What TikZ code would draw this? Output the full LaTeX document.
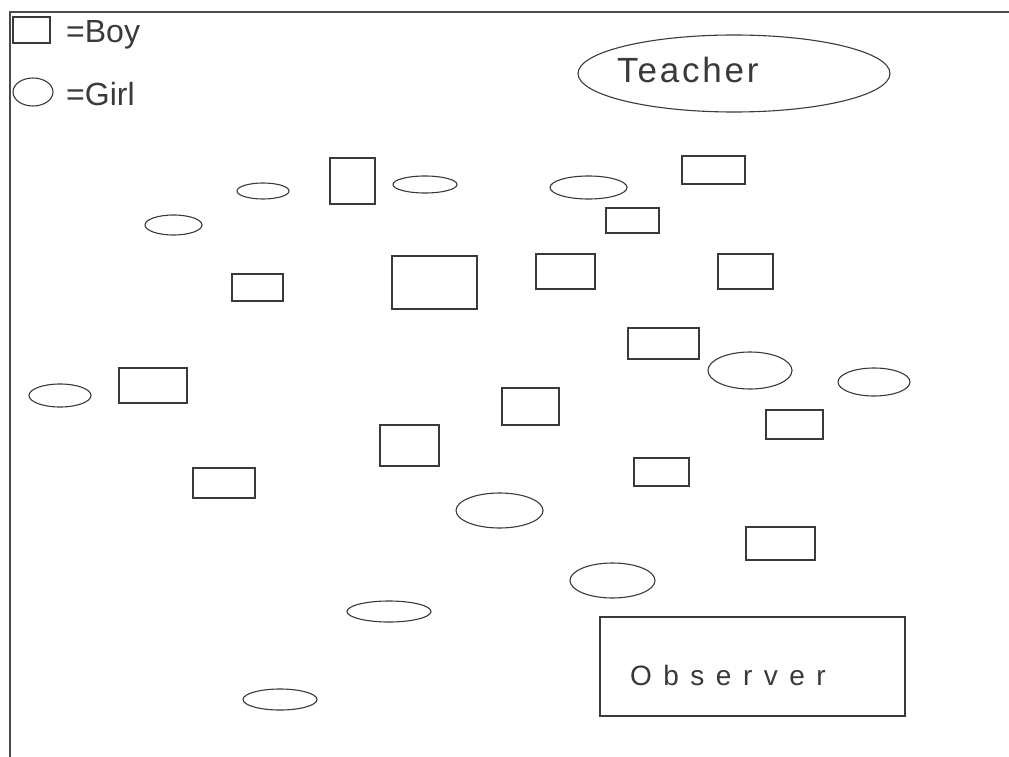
\documentclass[tikz,border=0pt]{standalone}
\usepackage{fontspec}
\setmainfont{Liberation Sans}
\usetikzlibrary{shapes.geometric}
\definecolor{inkc}{HTML}{3A3A3A}
\definecolor{framec}{HTML}{4A4A4A}
\tikzset{
  boy/.style={draw=inkc, line width=1.1pt, rectangle, inner sep=0pt, minimum width=#1},
  girl/.style={draw=inkc, line width=1.1pt, ellipse, inner sep=0pt, minimum width=#1},
  lbl/.style={inner sep=0pt, anchor=base west, text=inkc},
  frameline/.style={draw=framec, line width=2.5pt}
}
\begin{document}
\begin{tikzpicture}[x=1pt,y=-1pt]
\useasboundingbox (0,0) rectangle (1009,757);
\fill[white] (0,0) rectangle (1009,757);
% frame
\coordinate (ftr) at (1009,12);
\coordinate (ftl) at (10,12);
\coordinate (fbl) at (10,757);
\draw[frameline] (ftr) -- (ftl) -- (fbl);
% legend
\node[boy=37pt, minimum height=26pt] (lboy) at (31.5,30) {};
\node[girl=40pt, minimum height=28pt] (lgirl) at (33,92) {};
\node[lbl, font=\fontsize{32}{32}\selectfont] (tboy) at (66,43) {=Boy};
\node[lbl, font=\fontsize{32}{32}\selectfont] (tgirl) at (66,106) {=Girl};
% teacher
\node[girl=312pt, minimum height=77pt] (teacher) at (734,73.5) {};
\node[lbl, font=\fontsize{35}{35}\selectfont\addfontfeature{LetterSpace=8}] (tteacher) at (617,83) {Teacher};
% observer
\node[boy=305pt, minimum height=99pt] (observer) at (752.5,666.5) {};
\node[lbl, font=\fontsize{28}{28}\selectfont\addfontfeature{LetterSpace=41}] (tobserver) at (630,685) {Observer};
% girls
\node[girl=57pt, minimum height=20pt] (g1) at (173.5,225) {};
\node[girl=52pt, minimum height=16pt] (g2) at (263,191) {};
\node[girl=64pt, minimum height=17pt] (g3) at (425,184.5) {};
\node[girl=77pt, minimum height=23pt] (g4) at (588.5,187.5) {};
\node[girl=84pt, minimum height=37pt] (g5) at (750,370.5) {};
\node[girl=72pt, minimum height=28pt] (g6) at (874,382) {};
\node[girl=62pt, minimum height=23pt] (g7) at (60,395.5) {};
\node[girl=87pt, minimum height=35pt] (g8) at (499.5,510.5) {};
\node[girl=85pt, minimum height=35pt] (g9) at (612.5,580.5) {};
\node[girl=84pt, minimum height=21pt] (g10) at (389,611.5) {};
\node[girl=74pt, minimum height=21pt] (g11) at (280,699.5) {};
% boys
\node[boy=45pt, minimum height=46pt] (b1) at (352.5,181) {};
\node[boy=63pt, minimum height=28pt] (b2) at (713.5,170) {};
\node[boy=53pt, minimum height=25pt] (b3) at (632.5,220.5) {};
\node[boy=51pt, minimum height=27pt] (b4) at (257.5,287.5) {};
\node[boy=85pt, minimum height=53pt] (b5) at (434.5,282.5) {};
\node[boy=59pt, minimum height=35pt] (b6) at (565.5,271.5) {};
\node[boy=55pt, minimum height=35pt] (b7) at (745.5,271.5) {};
\node[boy=71pt, minimum height=31pt] (b8) at (663.5,343.5) {};
\node[boy=68pt, minimum height=35pt] (b9) at (153,385.5) {};
\node[boy=57pt, minimum height=37pt] (b10) at (530.5,406.5) {};
\node[boy=57pt, minimum height=29pt] (b11) at (794.5,424.5) {};
\node[boy=59pt, minimum height=41pt] (b12) at (409.5,445.5) {};
\node[boy=55pt, minimum height=28pt] (b13) at (661.5,472) {};
\node[boy=62pt, minimum height=30pt] (b14) at (224,483) {};
\node[boy=69pt, minimum height=33pt] (b15) at (780.5,543.5) {};
\end{tikzpicture}
\end{document}
